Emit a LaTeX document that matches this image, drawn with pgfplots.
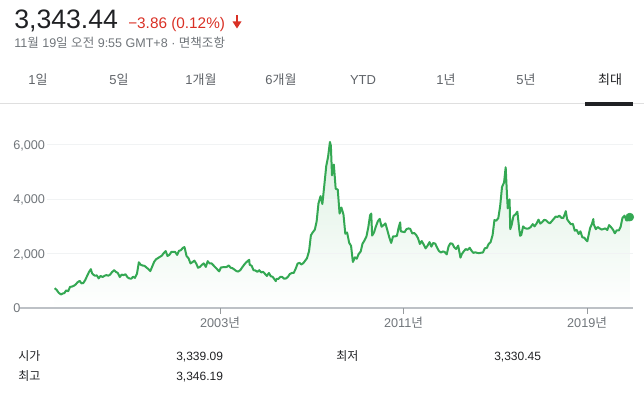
\documentclass[border=0pt]{standalone}
\usepackage{pgfplots}
\pgfplotsset{compat=1.18}
\usepackage{pgfplotstable}
\usepackage{fontspec}
\setmainfont{Liberation Sans}
\newfontfamily\kr{Noto Sans CJK KR}
\definecolor{lgreen}{HTML}{34A853}
\definecolor{gred}{HTML}{D93025}
\definecolor{ggrey}{HTML}{70757A}
\definecolor{tgrey}{HTML}{5F6368}
\definecolor{dark}{HTML}{202124}
\definecolor{gridc}{HTML}{F1F3F4}
\definecolor{basec}{HTML}{BDC1C6}

\pgfplotstableread{
x y
1995.79 740
1995.88 680
1995.96 580
1996.04 530
1996.08 515
1996.13 545
1996.21 560
1996.29 660
1996.38 630
1996.46 790
1996.54 800
1996.63 830
1996.71 880
1996.79 960
1996.88 1010
1996.96 920
1997.04 930
1997.13 1050
1997.21 1200
1997.29 1340
1997.37 1440
1997.42 1290
1997.46 1250
1997.54 1200
1997.63 1210
1997.71 1100
1997.79 1190
1997.88 1150
1997.96 1194
1998.04 1220
1998.13 1200
1998.21 1240
1998.29 1330
1998.38 1400
1998.46 1340
1998.54 1300
1998.63 1150
1998.71 1240
1998.79 1220
1998.88 1250
1998.96 1147
1999.04 1100
1999.13 1090
1999.21 1160
1999.29 1120
1999.38 1280
1999.46 1690
1999.54 1600
1999.63 1570
1999.71 1560
1999.79 1500
1999.88 1440
1999.96 1367
2000.04 1530
2000.13 1710
2000.21 1800
2000.29 1840
2000.38 1890
2000.46 1930
2000.54 2020
2000.63 2100
2000.71 1920
2000.79 1960
2000.88 2070
2000.96 2073
2001.04 2070
2001.13 1960
2001.21 2110
2001.29 2130
2001.38 2220
2001.45 2245
2001.54 1920
2001.63 1830
2001.71 1650
2001.79 1690
2001.88 1750
2001.96 1646
2002.04 1490
2002.13 1525
2002.21 1600
2002.29 1650
2002.38 1520
2002.46 1730
2002.54 1650
2002.63 1650
2002.71 1580
2002.79 1510
2002.88 1430
2002.96 1358
2003.04 1500
2003.13 1510
2003.21 1510
2003.29 1520
2003.38 1575
2003.46 1490
2003.54 1475
2003.63 1420
2003.71 1370
2003.79 1350
2003.88 1400
2003.96 1497
2004.04 1590
2004.13 1680
2004.21 1740
2004.27 1780
2004.29 1600
2004.38 1560
2004.46 1400
2004.54 1390
2004.63 1340
2004.71 1400
2004.79 1320
2004.88 1340
2004.96 1266
2005.04 1190
2005.13 1300
2005.21 1180
2005.29 1160
2005.38 1060
2005.43 1000
2005.46 1080
2005.54 1080
2005.63 1160
2005.71 1155
2005.79 1090
2005.88 1100
2005.96 1161
2006.04 1260
2006.13 1300
2006.21 1300
2006.29 1440
2006.38 1640
2006.46 1670
2006.54 1610
2006.63 1660
2006.71 1750
2006.79 1840
2006.88 2100
2006.96 2675
2007.04 2786
2007.13 2881
2007.21 3183
2007.29 3841
2007.38 4109
2007.46 3820
2007.54 4471
2007.63 5218
2007.71 5552
2007.79 6092
2007.83 5955
2007.88 4871
2007.96 5262
2008.04 4383
2008.13 4348
2008.21 3473
2008.29 3693
2008.38 3433
2008.46 2736
2008.54 2775
2008.63 2397
2008.71 2293
2008.79 1700
2008.88 1871
2008.96 1821
2009.04 1991
2009.13 2082
2009.21 2373
2009.29 2477
2009.38 2632
2009.46 2959
2009.54 3412
2009.59 3470
2009.63 2667
2009.71 2779
2009.79 2996
2009.88 3195
2009.96 3277
2010.04 2989
2010.13 3051
2010.21 3110
2010.29 2870
2010.38 2592
2010.46 2398
2010.54 2638
2010.63 2639
2010.71 2656
2010.79 2979
2010.85 3150
2010.88 2820
2010.96 2808
2011.04 2790
2011.13 2905
2011.21 2928
2011.29 2911
2011.38 2743
2011.46 2762
2011.54 2701
2011.63 2568
2011.71 2359
2011.79 2468
2011.88 2333
2011.96 2199
2012.04 2292
2012.13 2428
2012.21 2262
2012.29 2396
2012.38 2372
2012.46 2225
2012.54 2103
2012.63 2047
2012.71 2086
2012.79 2068
2012.88 1980
2012.96 2269
2013.04 2385
2013.13 2365
2013.21 2236
2013.29 2177
2013.38 2300
2013.48 1860
2013.54 1993
2013.63 2098
2013.71 2174
2013.79 2141
2013.88 2220
2013.96 2116
2014.04 2033
2014.13 2056
2014.21 2033
2014.29 2026
2014.38 2039
2014.46 2048
2014.54 2201
2014.63 2217
2014.71 2363
2014.79 2420
2014.88 2683
2014.96 3235
2015.04 3210
2015.13 3310
2015.21 3748
2015.29 4441
2015.38 4612
2015.45 5166
2015.50 4277
2015.54 3663
2015.62 3990
2015.65 2900
2015.71 3052
2015.79 3382
2015.88 3445
2015.96 3539
2016.04 2900
2016.08 2660
2016.13 2688
2016.21 3003
2016.29 2938
2016.38 2917
2016.46 2930
2016.54 2979
2016.63 3085
2016.71 3005
2016.79 3100
2016.88 3250
2016.96 3104
2017.04 3159
2017.13 3242
2017.21 3223
2017.29 3155
2017.38 3117
2017.46 3192
2017.54 3273
2017.63 3361
2017.71 3349
2017.79 3393
2017.88 3317
2017.96 3307
2018.04 3481
2018.07 3560
2018.13 3259
2018.21 3169
2018.29 3082
2018.38 3095
2018.46 2847
2018.54 2876
2018.63 2725
2018.71 2821
2018.79 2603
2018.88 2588
2018.96 2494
2019.01 2460
2019.04 2585
2019.13 2941
2019.21 3091
2019.27 3270
2019.29 3078
2019.38 2899
2019.46 2979
2019.54 2932
2019.63 2886
2019.71 2905
2019.79 2929
2019.88 2871
2019.96 3050
2020.04 2977
2020.13 2880
2020.21 2750
2020.29 2860
2020.38 2852
2020.46 2985
2020.54 3310
2020.63 3396
2020.71 3218
2020.79 3225
2020.86 3343
}\datatable

\begin{document}
\begin{tikzpicture}
\begin{scope}[x=0.75pt,y=0.75pt]
\path[use as bounding box] (0,0) rectangle (644,398);

% header
\node[anchor=base west, inner sep=0, text=dark, font=\fontsize{20}{20}\selectfont] at (14,398-28.5) {3,343.44};
\node[anchor=base west, inner sep=0, text=gred, font=\fontsize{11.5}{12}\selectfont] at (128,398-28.5) {−3.86 (0.12\%)};
\fill[gred] (232.5,398-21.5) -- (241.5,398-21.5) -- (237,398-28.5) -- cycle;
\fill[gred] (235.8,398-15.5) rectangle (238.2,398-22);
\node[anchor=base west, inner sep=0, text=ggrey, font=\fontsize{9.4}{10}\selectfont] at (14,398-48) {11{\kr 월} 19{\kr 일} {\kr 오전} 9:55 GMT+8 · {\kr 면책조항}};

% tabs
\begin{scope}[every node/.style={anchor=base, inner sep=0, text=tgrey, font=\fontsize{9.75}{10}\selectfont}]
\node at (38,398-85) {1{\kr 일}};
\node at (119,398-85) {5{\kr 일}};
\node at (201,398-85) {1{\kr 개월}};
\node at (281,398-85) {6{\kr 개월}};
\node at (363,398-85) {YTD};
\node at (446,398-85) {1{\kr 년}};
\node at (526,398-85) {5{\kr 년}};
\node[text=dark] at (610,398-85) {{\kr 최대}};
\end{scope}
\draw[gray!25, line width=0.75pt] (0,398-104) -- (644,398-104);
\fill[dark] (585,398-106) rectangle (633,398-102.5);

% y labels
\begin{scope}[every node/.style={anchor=base west, inner sep=0, text=ggrey, font=\fontsize{9.5}{10}\selectfont}]
\node at (13,398-149.5) {6,000};
\node at (13,398-204) {4,000};
\node at (13,398-259) {2,000};
\node at (13,398-313) {0};
\end{scope}

% stats
\begin{scope}[every node/.style={anchor=base west, inner sep=0, text=dark, font=\fontsize{9}{10}\selectfont}]
\node at (18,398-361) {{\kr 시가}};
\node at (176,398-361) {3,339.09};
\node at (336,398-361) {{\kr 최저}};
\node at (494,398-361) {3,330.45};
\node at (18,398-381) {{\kr 최고}};
\node at (176,398-381) {3,346.19};
\end{scope}
\end{scope}

\begin{axis}[
  at={(15pt,67.125pt)}, anchor=south west,
  scale only axis, width=459.75pt, height=129.2pt,
  xmin=1994.28, xmax=2021.0, ymin=0, ymax=6300,
  axis lines=none, clip=false,
  xtick=\empty, ytick=\empty,
]
\addplot[draw=none, top color=lgreen!17!white, bottom color=white] table[x=x,y=y] {\datatable} \closedcycle;
\draw[gridc, line width=0.75pt] (axis cs:1995.46,2000) -- (axis cs:2021.0,2000);
\draw[gridc, line width=0.75pt] (axis cs:1995.46,4000) -- (axis cs:2021.0,4000);
\draw[gridc, line width=0.75pt] (axis cs:1995.46,6000) -- (axis cs:2021.0,6000);
\draw[basec, line width=1.5pt] (axis cs:1994.28,0) -- (axis cs:2021.0,0);
\draw[basec!80!black, line width=0.75pt] (axis cs:2003,0) -- ++(0pt,-4.5pt);
\draw[basec!80!black, line width=0.75pt] (axis cs:2011,0) -- ++(0pt,-4.5pt);
\draw[basec!80!black, line width=0.75pt] (axis cs:2019,0) -- ++(0pt,-4.5pt);
\node[anchor=base, inner sep=0, text=ggrey, font=\fontsize{9.5}{10}\selectfont, yshift=-14pt] at (axis cs:2003,0) {2003{\kr 년}};
\node[anchor=base, inner sep=0, text=ggrey, font=\fontsize{9.5}{10}\selectfont, yshift=-14pt] at (axis cs:2011,0) {2011{\kr 년}};
\node[anchor=base, inner sep=0, text=ggrey, font=\fontsize{9.5}{10}\selectfont, yshift=-14pt] at (axis cs:2019,0) {2019{\kr 년}};
\addplot[lgreen, line width=1.5pt, line join=round] table[x=x,y=y] {\datatable};
\addplot[only marks, mark=*, mark size=3pt, lgreen] coordinates {(2020.86,3343)};
\end{axis}
\end{tikzpicture}
\end{document}
